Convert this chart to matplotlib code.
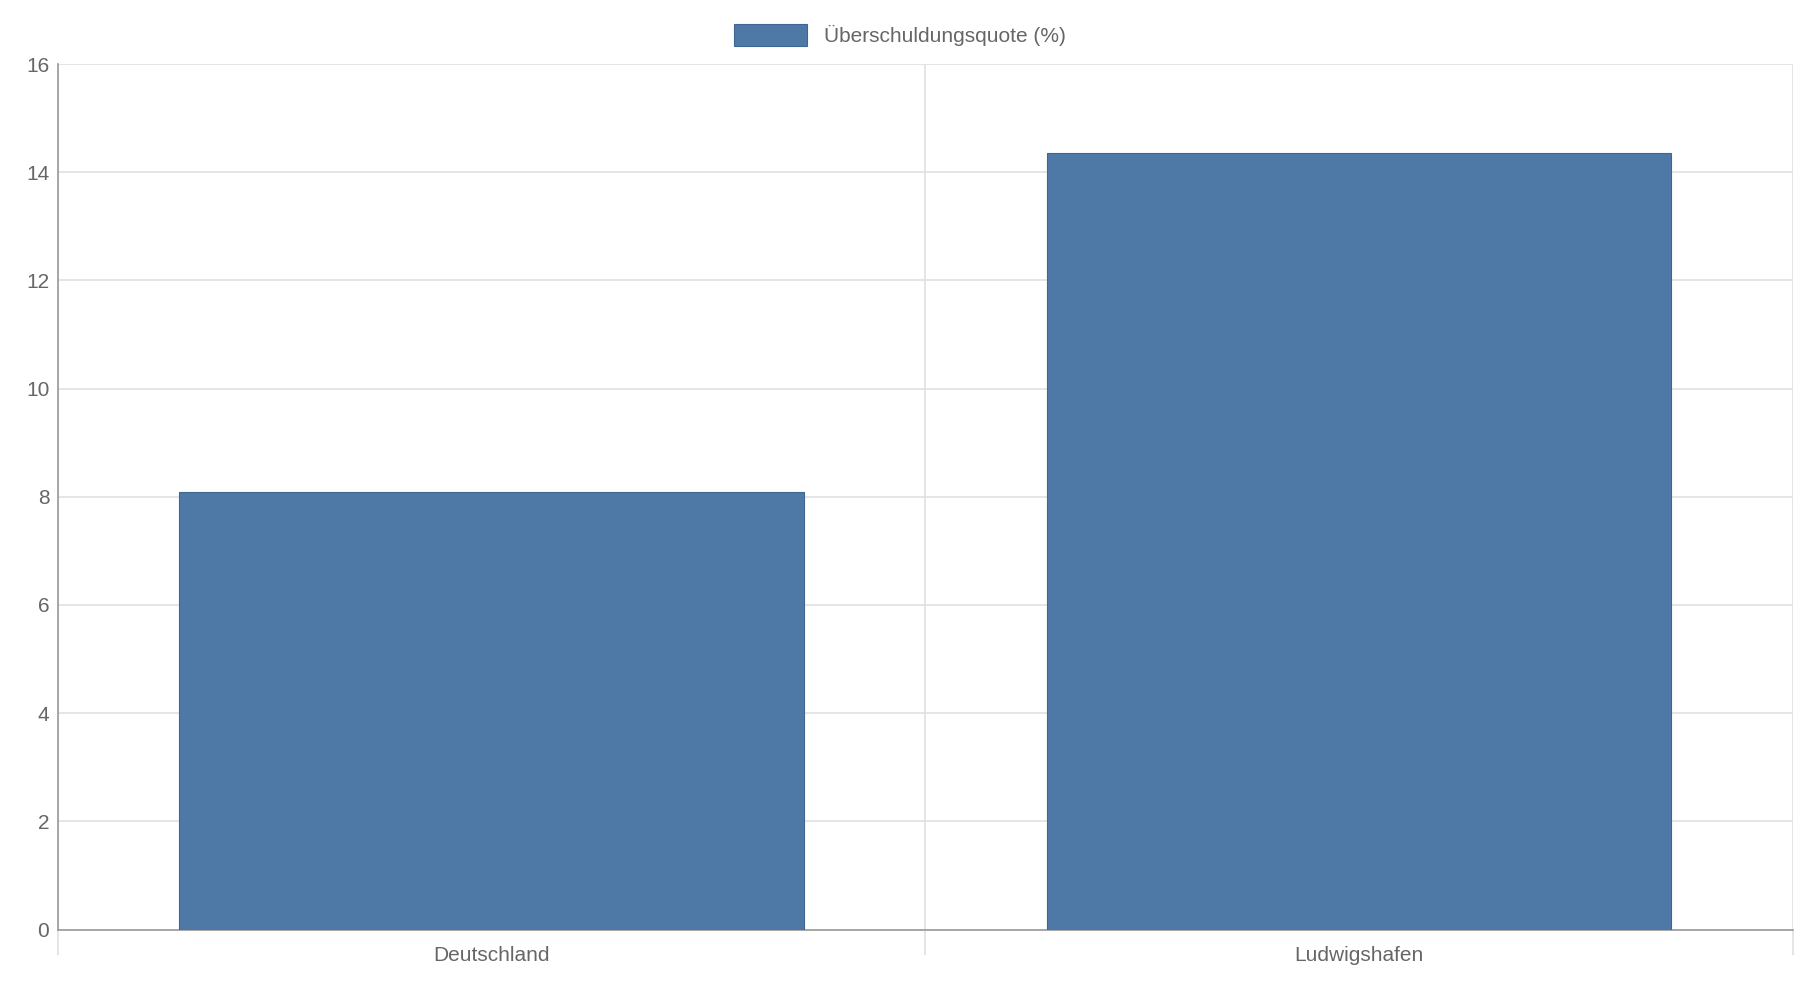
import matplotlib
matplotlib.use("Agg")
import matplotlib.pyplot as plt
from matplotlib.ticker import FixedLocator

categories = ["Deutschland", "Ludwigshafen"]
values = [8.08, 14.35]
series_label = "Überschuldungsquote (%)"

plt.rcParams["font.family"] = ["Liberation Sans", "DejaVu Sans"]
BAR = "#4e79a7"
TXT = "#666666"
GRID = "#e0e0e0"

fig = plt.figure(figsize=(18, 10), dpi=100)
ax = fig.add_axes([0.032, 0.0705, 0.964, 0.8655])

ax.bar(range(len(categories)), values, width=0.72, color=BAR,
       edgecolor="#3f6690", linewidth=0.8, label=series_label, zorder=3)

ax.set_xlim(-0.5, len(categories) - 0.5)
ax.set_ylim(0, 16)
ax.set_yticks(range(0, 17, 2))
ax.set_xticks(range(len(categories)))
ax.set_xticklabels(categories)
ax.xaxis.set_minor_locator(FixedLocator([-0.5, 0.5, 1.5]))

ax.grid(axis="y", color=GRID, linewidth=1.2, zorder=0)
ax.grid(axis="x", which="minor", color=GRID, linewidth=1.2, zorder=0)
ax.tick_params(axis="x", which="major", length=0, pad=12, labelsize=15, labelcolor=TXT)
ax.tick_params(axis="x", which="minor", length=18, color=GRID, width=1.2)
ax.tick_params(axis="y", length=0, pad=6, labelsize=15, labelcolor=TXT)

for s in ("top", "right"):
    ax.spines[s].set_visible(False)
for s in ("left", "bottom"):
    ax.spines[s].set_color("#999999")
    ax.spines[s].set_linewidth(1.2)

fig.legend(loc="upper center", bbox_to_anchor=(0.5, 0.995), frameon=False,
           fontsize=15, labelcolor=TXT, handlelength=3.5, handleheight=1.3)

fig.savefig("out.png", dpi=100, facecolor="white")
